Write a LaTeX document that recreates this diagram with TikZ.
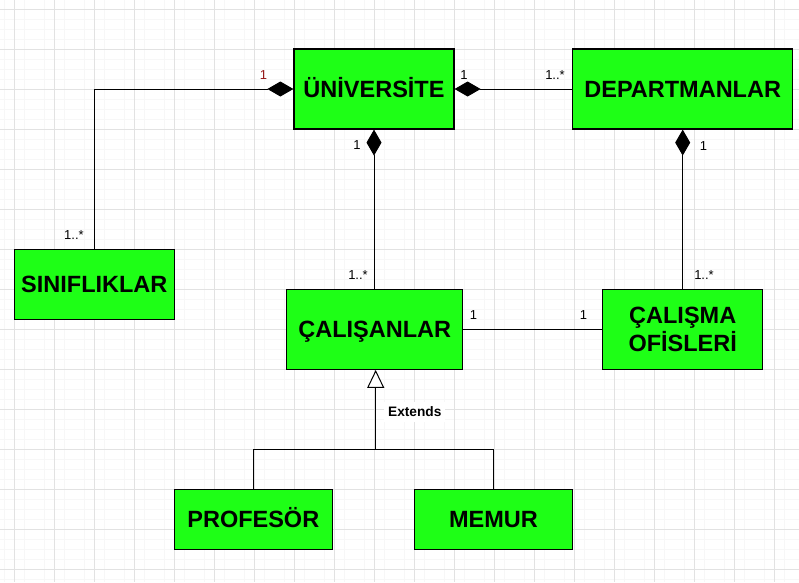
\documentclass[tikz,border=0pt]{standalone}
\usepackage{fontspec}
\setmainfont{Liberation Sans}
\usetikzlibrary{arrows.meta}
\definecolor{boxgreen}{RGB}{30,255,22}
\definecolor{gridmajor}{RGB}{226,226,226}
\definecolor{gridminor}{RGB}{247,247,247}
\definecolor{labred}{RGB}{150,25,25}
\tikzset{
  cls/.style={draw=black, line width=1.2pt, fill=boxgreen, inner sep=0pt,
    font=\fontsize{23.5}{28.7}\selectfont\bfseries, text height=17pt, text depth=0pt},
  clsml/.style={draw=black, line width=1.2pt, fill=boxgreen, inner sep=0pt,
    font=\fontsize{23.5}{28.7}\selectfont\bfseries, align=center},
  mult/.style={inner sep=0pt, anchor=base, font=\fontsize{13}{15}\selectfont},
  conn/.style={draw=black, line width=1pt},
  comp/.style={conn, {Diamond[length=26pt,width=15pt]}-},
  gen/.style={conn, -{Triangle[open,fill=white,length=18pt,width=17pt]}},
}
\begin{document}
\begin{tikzpicture}[x=1pt,y=-1pt]
\useasboundingbox (0,0) rectangle (799,582);
\fill[white] (0,0) rectangle (799,582);
% grid
\foreach \x in {4,24,...,794} \draw[gridminor, line width=0.8pt] (\x,0) -- (\x,582);
\foreach \x in {24,64,...,794} \draw[gridminor, line width=0.8pt] (\x,0) -- (\x,582);
\foreach \y in {19,29,...,579} \draw[gridminor, line width=0.8pt] (0,\y) -- (799,\y);
\foreach \x in {14,54,...,794} \draw[gridmajor, line width=1pt] (\x,0) -- (\x,582);
\foreach \y in {9,49,...,569} \draw[gridmajor, line width=1pt] (0,\y) -- (799,\y);

% classes
\node[cls, minimum width=160pt, minimum height=80pt] (uni) at (374,89) {ÜNİVERSİTE};
\node[cls, minimum width=220pt, minimum height=80pt] (dep) at (682.7,89) {DEPARTMANLAR};
\node[cls, minimum width=160pt, minimum height=70pt] (sin) at (94.3,284.3) {SINIFLIKLAR};
\node[cls, minimum width=176pt, minimum height=80pt] (cal) at (374.7,329.3) {ÇALIŞANLAR};
\node[clsml, minimum width=160pt, minimum height=80pt] (ofis) at (682.7,329.3) {ÇALIŞMA\\OFİSLERİ};
\node[cls, minimum width=158pt, minimum height=60pt] (prof) at (253.3,519.3) {PROFESÖR};
\node[cls, minimum width=158pt, minimum height=60pt] (memur) at (493.5,519.3) {MEMUR};

% connectors
\draw[comp] (uni.west) -| (sin.north);
\draw[comp] (uni.east) -- (dep.west);
\draw[comp] (uni.south) -- (uni.south |- cal.north);
\draw[comp] (dep.south) -- (ofis.north);
\draw[conn] (cal.east) -- (ofis.west);
\coordinate (junc) at (375.7,449.3);
\draw[gen] (junc) -- (junc |- cal.south);
\draw[conn] (prof.north) |- (junc) -| (memur.north);

% multiplicities
\node[mult, text=labred] (m1) at (263.5,79) {1};
\node[mult] (m2) at (74,239) {1..*};
\node[mult] (m3) at (464,79) {1};
\node[mult] (m4) at (555,79) {1..*};
\node[mult] (m5) at (357,149) {1};
\node[mult] (m6) at (358,279) {1..*};
\node[mult] (m7) at (703.5,150.5) {1};
\node[mult] (m8) at (704,279) {1..*};
\node[mult] (m9) at (473.5,319) {1};
\node[mult] (m10) at (583.5,319) {1};
\node[fill=white, inner xsep=4pt, inner ysep=5pt, anchor=base,
  font=\fontsize{13.7}{16}\selectfont\bfseries] (ext) at (414.8,416.7) {Extends};
\end{tikzpicture}
\end{document}
